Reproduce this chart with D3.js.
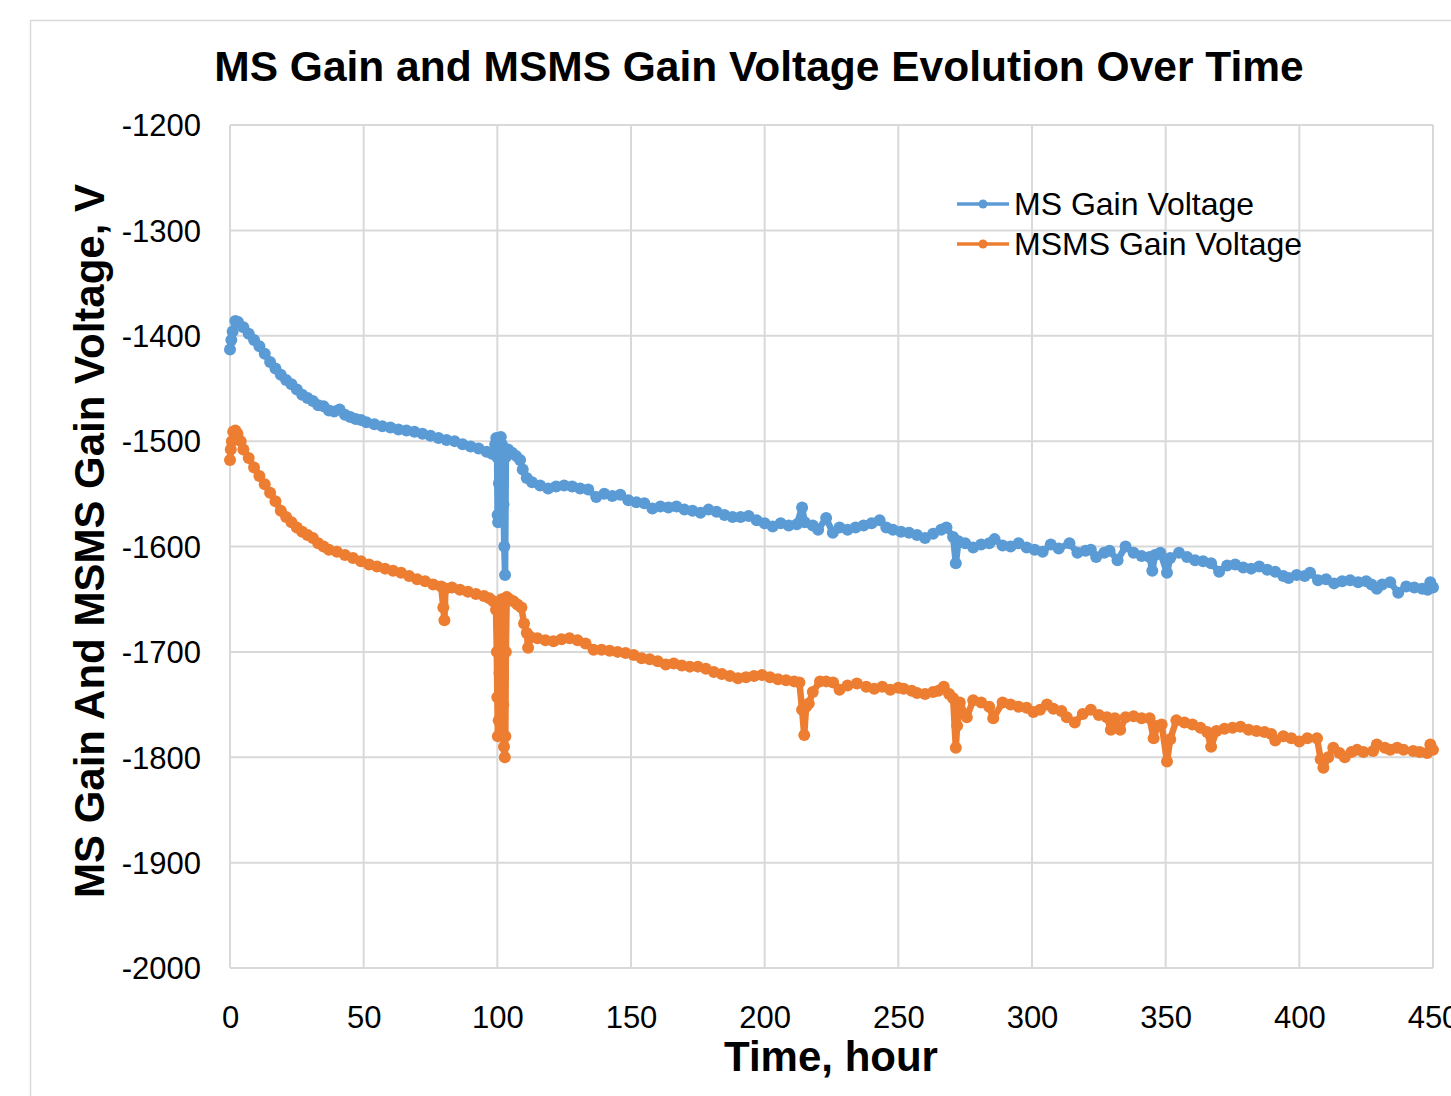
<!DOCTYPE html>
<html>
<head>
<meta charset="utf-8">
<script src="https://cdn.jsdelivr.net/npm/d3@7"></script>
<style>
  body { margin: 0; background: #fff; }
  svg { display: block; font-family: "Liberation Sans", Arial, sans-serif; }
</style>
</head>
<body>
<svg id="chart" width="1451" height="1096"></svg>
<script>
// chart data
const chartTitle = "MS Gain and MSMS Gain Voltage Evolution Over Time";
const xTitle = "Time, hour";
const yTitle = "MS Gain And MSMS Gain Voltage, V";
const seriesNames = ["MS Gain Voltage", "MSMS Gain Voltage"];
const seriesColours = ["#5b9bd5", "#ed7d31"];

const xTicks = [0, 50, 100, 150, 200, 250, 300, 350, 400, 450];
const yTicks = [-1200, -1300, -1400, -1500, -1600, -1700, -1800, -1900, -2000];

const msHours = [0, 0.5, 1, 2, 3, 5, 7, 9, 11, 13, 15, 17, 19, 21, 23, 25, 27, 29, 31, 33, 35, 37, 39, 41, 43, 45, 47, 49,
  51, 54, 57, 60, 63, 66, 69, 72, 75, 78, 81, 84, 87, 90, 93, 96, 98, 99.2, 99.6, 99.9, 100.1, 100.3, 100.6, 100.9,
  101.3, 101.7, 102, 102.3, 102.6, 102.9, 103.2, 104, 105.5, 107, 108.5, 109.5, 111, 113, 116, 119, 122, 125, 128,
  131, 134, 137, 140, 143, 146, 149, 152, 155, 158, 161, 164, 167, 170, 173, 176, 179, 182, 185, 188, 191, 194, 197,
  200, 203, 206, 209, 212, 214, 215, 218, 220, 223, 225.5, 228, 231, 234, 237, 240, 243, 245.5, 248, 251, 254, 257,
  260, 263, 266, 268, 270.5, 271.5, 272.5, 275, 278, 281, 284, 286, 289, 292, 295, 298, 301, 304, 307, 310, 314, 317,
  320, 322, 324, 327, 329, 332, 335, 338, 341, 344, 345, 346, 348, 350.5, 351.7, 355, 358, 361, 364, 367, 370, 373,
  376, 379, 382, 385, 388, 391, 394, 396, 399, 402, 404, 407, 410, 413, 416, 419, 422, 425, 427, 429, 431, 434, 437,
  440, 443, 446, 448, 449, 450];
const msVolts = [-1413, -1404, -1396, -1386, -1387, -1392, -1398, -1404, -1410, -1417, -1425, -1431, -1437, -1442,
  -1446, -1451, -1456, -1459, -1462, -1466, -1467, -1471, -1472, -1470, -1475, -1477, -1479, -1480, -1482, -1484,
  -1486, -1487, -1489, -1490, -1491, -1493, -1495, -1497, -1499, -1500, -1503, -1505, -1507, -1510, -1512, -1503,
  -1497, -1515, -1570, -1577, -1540, -1498, -1496, -1503, -1510, -1560, -1600, -1627, -1515, -1508, -1511, -1514,
  -1518, -1527, -1535, -1539, -1542, -1545, -1543, -1542, -1543, -1545, -1546, -1553, -1550, -1552, -1551, -1556,
  -1558, -1559, -1564, -1562, -1563, -1562, -1565, -1566, -1568, -1565, -1567, -1570, -1572, -1572, -1571, -1575,
  -1578, -1581, -1578, -1580, -1579, -1563, -1577, -1580, -1584, -1573, -1587, -1582, -1584, -1582, -1580, -1578,
  -1575, -1582, -1584, -1586, -1587, -1589, -1592, -1588, -1584, -1582, -1591, -1616, -1595, -1597, -1601, -1598,
  -1597, -1593, -1599, -1600, -1597, -1601, -1603, -1605, -1598, -1602, -1597, -1606, -1604, -1603, -1610, -1606,
  -1604, -1613, -1600, -1606, -1609, -1610, -1623, -1608, -1606, -1625, -1611, -1606, -1610, -1613, -1614, -1616,
  -1624, -1618, -1617, -1620, -1621, -1619, -1622, -1624, -1628, -1630, -1627, -1628, -1625, -1632, -1631, -1635,
  -1633, -1632, -1634, -1633, -1636, -1640, -1636, -1634, -1644, -1638, -1639, -1640, -1641, -1634, -1639];

const msmsHours = [0, 0.3, 0.7, 1.2, 2, 2.8, 4, 5, 7, 9, 11, 13, 15, 17, 19, 21, 23, 25, 27, 29, 31, 33, 35, 37, 40,
  43, 46, 49, 52, 55, 58, 61, 64, 67, 70, 73, 76, 79, 79.8, 80.2, 80.6, 83, 86, 89, 92, 95, 97, 98.5, 99.5, 99.8, 100,
  100.2, 100.5, 100.8, 101.2, 101.6, 101.9, 102.2, 102.5, 102.8, 103, 103.2, 103.5, 104.5, 106, 107.5, 109, 110, 111,
  111.5, 112.5, 115, 118, 121, 124, 127, 130, 133, 136, 139, 142, 145, 148, 151, 154, 157, 160, 163, 166, 169, 172,
  175, 178, 181, 184, 187, 190, 193, 196, 199, 202, 205, 208, 211, 213, 214, 214.8, 215.5, 216.5, 218, 220.7, 223,
  225.6, 228, 231, 234.5, 238, 241, 244, 247, 250, 252, 255, 257, 260, 263, 265, 267, 269, 270.5, 271.5, 272, 273,
  275.6, 278, 281, 284, 285.5, 289, 292, 295, 298, 300.5, 303, 305.6, 308, 311, 313, 316, 319, 322, 325, 328, 329.5,
  331, 333, 335, 338, 341, 344, 345.5, 347, 348.5, 350.5, 351.7, 354, 357, 360, 363, 365.5, 367, 369, 372, 375, 378,
  381, 384, 387, 389.5, 391, 394, 397, 400, 403, 406.6, 408, 409, 410.8, 412.7, 415, 417, 419.5, 421.6, 424, 427.6,
  429, 432, 434, 436.6, 439, 442.6, 445, 447.8, 449, 450];
const msmsVolts = [-1518, -1508, -1500, -1491, -1490, -1493, -1500, -1508, -1516, -1525, -1533, -1541, -1549, -1557,
  -1566, -1572, -1577, -1582, -1586, -1589, -1592, -1597, -1600, -1603, -1605, -1608, -1611, -1614, -1617, -1619,
  -1621, -1623, -1625, -1628, -1631, -1633, -1636, -1638, -1658, -1670, -1640, -1639, -1641, -1643, -1645, -1647,
  -1649, -1652, -1660, -1700, -1743, -1780, -1765, -1720, -1680, -1650, -1700, -1750, -1790, -1800, -1780, -1700,
  -1648, -1650, -1652, -1655, -1658, -1673, -1682, -1696, -1686, -1687, -1689, -1690, -1688, -1687, -1689, -1692,
  -1698, -1698, -1699, -1700, -1701, -1703, -1706, -1707, -1709, -1712, -1711, -1713, -1714, -1714, -1716, -1719,
  -1721, -1723, -1725, -1724, -1723, -1722, -1724, -1726, -1727, -1728, -1729, -1755, -1779, -1752, -1749, -1738,
  -1728, -1728, -1729, -1736, -1732, -1730, -1733, -1735, -1733, -1736, -1734, -1735, -1737, -1739, -1740, -1738,
  -1737, -1733, -1740, -1744, -1791, -1770, -1748, -1762, -1746, -1748, -1752, -1763, -1748, -1750, -1752, -1753,
  -1757, -1755, -1750, -1754, -1756, -1762, -1767, -1759, -1755, -1760, -1762, -1774, -1763, -1774, -1762, -1761,
  -1763, -1763, -1782, -1770, -1769, -1804, -1783, -1765, -1767, -1769, -1772, -1776, -1790, -1775, -1773, -1772,
  -1771, -1774, -1775, -1776, -1778, -1784, -1780, -1782, -1785, -1782, -1782, -1802, -1810, -1800, -1791, -1796,
  -1800, -1795, -1793, -1795, -1794, -1788, -1791, -1793, -1791, -1793, -1794, -1795, -1796, -1788, -1793];

const gridColour = "#d9d9d9";
const svg = d3.select("#chart");

// outer chart frame (runs off the right and bottom of the picture)
svg.append("rect")
  .attr("x", 30.5).attr("y", 20.5)
  .attr("width", 1500).attr("height", 1200)
  .attr("fill", "#fff")
  .attr("stroke", gridColour)
  .attr("stroke-width", 1.5);

const x = d3.scaleLinear().domain([0, 450]).range([230, 1433]);
const y = d3.scaleLinear().domain([-2000, -1200]).range([968, 125]);

// gridlines
svg.append("g")
  .selectAll("line.v")
  .data(xTicks)
  .join("line")
  .attr("x1", (d) => x(d)).attr("x2", (d) => x(d))
  .attr("y1", y(-1200)).attr("y2", y(-2000))
  .attr("stroke", gridColour).attr("stroke-width", 2);

svg.append("g")
  .selectAll("line.h")
  .data(yTicks)
  .join("line")
  .attr("x1", x(0)).attr("x2", x(450))
  .attr("y1", (d) => y(d)).attr("y2", (d) => y(d))
  .attr("stroke", gridColour).attr("stroke-width", 2);

// axes, only the labels are shown (plain hyphen for the minus, as in the original)
const xAxis = svg.append("g")
  .attr("transform", `translate(0,${y(-2000)})`)
  .call(d3.axisBottom(x).tickValues(xTicks).tickSize(0).tickPadding(38));
const yAxis = svg.append("g")
  .attr("transform", `translate(${x(0)},0)`)
  .call(d3.axisLeft(y).tickValues(yTicks).tickSize(0).tickPadding(29).tickFormat((d) => String(d)));

[xAxis, yAxis].forEach((g) => {
  g.select(".domain").remove();
  g.selectAll("text")
    .attr("font-family", "Liberation Sans, Arial, sans-serif")
    .attr("font-size", 31)
    .attr("fill", "#000");
});
yAxis.selectAll("text").attr("dy", "0.35em");

// series
const seriesData = [
  msHours.map((h, i) => ({ h, v: msVolts[i] })),
  msmsHours.map((h, i) => ({ h, v: msmsVolts[i] })),
];

const line = d3.line()
  .x((d) => x(d.h))
  .y((d) => y(d.v));

seriesData.forEach((pts, k) => {
  const g = svg.append("g");
  g.append("path")
    .attr("d", line(pts))
    .attr("fill", "none")
    .attr("stroke", seriesColours[k])
    .attr("stroke-width", 6.5)
    .attr("stroke-linejoin", "round")
    .attr("stroke-linecap", "round");
  g.selectAll("circle")
    .data(pts)
    .join("circle")
    .attr("cx", (d) => x(d.h))
    .attr("cy", (d) => y(d.v))
    .attr("r", 6)
    .attr("fill", seriesColours[k]);
});

// legend
const legend = svg.append("g");
seriesNames.forEach((name, k) => {
  const ly = 204 + k * 40;
  legend.append("line")
    .attr("x1", 957).attr("x2", 1009)
    .attr("y1", ly).attr("y2", ly)
    .attr("stroke", seriesColours[k]).attr("stroke-width", 3.5);
  legend.append("circle")
    .attr("cx", 983).attr("cy", ly).attr("r", 4.5)
    .attr("fill", seriesColours[k]);
  legend.append("text")
    .attr("x", 1014).attr("y", ly + 11)
    .attr("font-size", 32)
    .text(name);
});

// titles
svg.append("text")
  .attr("x", 759).attr("y", 81)
  .attr("text-anchor", "middle")
  .attr("font-size", 42.5).attr("font-weight", "bold")
  .text(chartTitle);

svg.append("text")
  .attr("x", 831).attr("y", 1071)
  .attr("text-anchor", "middle")
  .attr("font-size", 42).attr("font-weight", "bold")
  .text(xTitle);

svg.append("text")
  .attr("transform", "translate(104,541) rotate(-90)")
  .attr("text-anchor", "middle")
  .attr("font-size", 42).attr("font-weight", "bold")
  .text(yTitle);
</script>
</body>
</html>
